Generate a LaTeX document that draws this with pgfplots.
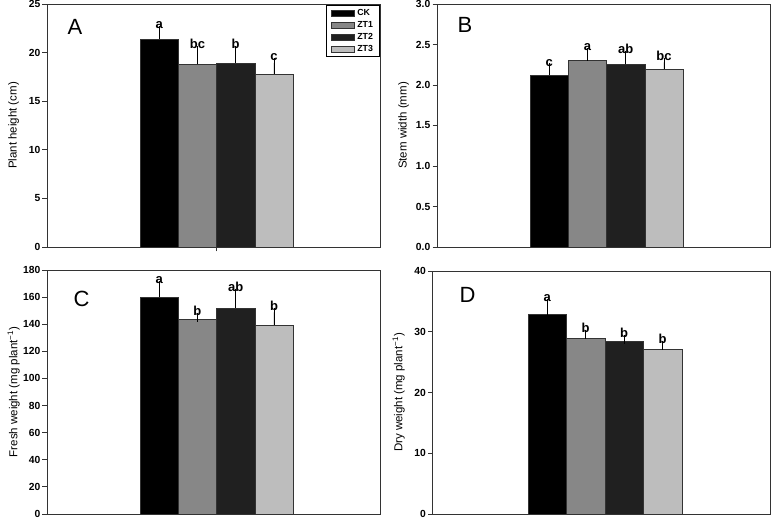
\documentclass[border=0pt]{standalone}
\usepackage{pgfplots}
\pgfplotsset{compat=1.18}
\usepackage{fontspec}
\setmainfont{Liberation Sans}
\definecolor{ck}{HTML}{000000}
\definecolor{zta}{HTML}{878787}
\definecolor{ztb}{HTML}{202020}
\definecolor{ztc}{HTML}{BDBDBD}
\definecolor{axisgray}{HTML}{333333}

\pgfplotsset{
  panel/.style={
    scale only axis, width=333bp, height=243bp,
    xmin=-4.43, xmax=4.27, ymin=0,
    axis line style={axisgray, line width=0.9bp},
    tick style={axisgray, line width=0.8bp},
    tick align=outside, major tick length=4.5bp,
    ytick pos=left, xtick pos=bottom, xtick=\empty,
    /pgf/number format/assume math mode=true,
    yticklabel style={font=\fontsize{10.3bp}{11bp}\selectfont\bfseries, inner xsep=2bp},
    ylabel style={font=\fontsize{11.5bp}{13bp}\selectfont,
      at={(axis description cs:-0.1,0.5)}, anchor=center},
  },
  bar/.style={ybar, bar width=1, bar shift=0pt, draw=axisgray, line width=0.5bp,
    error bars/.cd, y dir=plus, y explicit,
    error bar style={black, line width=0.8bp},
    error mark=-,
    error mark options={black, line width=0.8bp, mark size=4.5bp},
    /pgfplots/.cd,
    legend image code/.code={\draw[##1, line width=0.5bp] (0bp,-3bp) rectangle (23bp,3bp);}},
}
\tikzset{
  sig/.style={anchor=south, inner sep=1.5bp, font=\fontsize{13bp}{14bp}\selectfont\bfseries},
  tag/.style={font=\fontsize{22bp}{24bp}\selectfont},
}

\begin{document}
\begin{tikzpicture}
\useasboundingbox (0,0) rectangle (777bp,519bp);

% A: plant height
\begin{axis}[panel, at={(47bp,272bp)}, anchor=south west,
  ymax=25, ytick={0,5,...,25},
  xtick={0}, xticklabels={{}},
  ylabel={Plant height (cm)},
  legend style={at={(0.998,0.995)}, anchor=north east, draw=black, line width=0.8bp,
    font=\fontsize{8.8bp}{9bp}\selectfont\bfseries, inner xsep=4bp, inner ysep=3bp,
    nodes={inner ysep=1bp, inner xsep=2bp}, row sep=2.2bp, column sep=1bp,
    cells={anchor=west}}]
\addplot[bar, fill=ck]  coordinates {(-1.5,21.4)  +- (0,0.9)};
\addplot[bar, fill=zta] coordinates {(-0.5,18.8)  +- (0,1.4)};
\addplot[bar, fill=ztb] coordinates {(0.5,18.95)  +- (0,1.25)};
\addplot[bar, fill=ztc] coordinates {(1.5,17.8)   +- (0,1.15)};
\legend{CK,ZT1,ZT2,ZT3}
\node[sig] at (axis cs:-1.5,22.3) {a};
\node[sig] at (axis cs:-0.5,20.2) {bc};
\node[sig] at (axis cs:0.5,20.2) {b};
\node[sig] at (axis cs:1.5,18.95) {c};
\node[tag] at (axis description cs:0.084,0.905) {A};
\end{axis}

% B: stem width
\begin{axis}[panel, at={(437bp,272bp)}, anchor=south west,
  ymax=3, ytick={0,0.5,...,3},
  yticklabel style={/pgf/number format/.cd, fixed, fixed zerofill, precision=1},
  ylabel={Stem width (mm)}]
\addplot[bar, fill=ck]  coordinates {(-1.5,2.12)  +- (0,0.09)};
\addplot[bar, fill=zta] coordinates {(-0.5,2.30)  +- (0,0.10)};
\addplot[bar, fill=ztb] coordinates {(0.5,2.255)  +- (0,0.115)};
\addplot[bar, fill=ztc] coordinates {(1.5,2.195)  +- (0,0.085)};
\node[sig] at (axis cs:-1.5,2.21) {c};
\node[sig] at (axis cs:-0.5,2.40) {a};
\node[sig] at (axis cs:0.5,2.37) {ab};
\node[sig] at (axis cs:1.5,2.28) {bc};
\node[tag] at (axis description cs:0.084,0.914) {B};
\end{axis}

% C: fresh weight
\begin{axis}[panel, at={(47bp,5bp)}, anchor=south west, height=244bp,
  ymax=180, ytick={0,20,...,180},
  ylabel={Fresh weight (mg plant\textsuperscript{−1})}]
\addplot[bar, fill=ck]  coordinates {(-1.5,159.8) +- (0,8.6)};
\addplot[bar, fill=zta] coordinates {(-0.5,143.3) +- (0,1.7)};
\addplot[bar, fill=ztb] coordinates {(0.5,151.9)  +- (0,11.1)};
\addplot[bar, fill=ztc] coordinates {(1.5,139.6)  +- (0,9.1)};
\node[sig] at (axis cs:-1.5,168.4) {a};
\node[sig] at (axis cs:-0.5,145.0) {b};
\node[sig] at (axis cs:0.5,163.0) {ab};
\node[sig] at (axis cs:1.5,148.7) {b};
\node[tag] at (axis description cs:0.104,0.883) {C};
\end{axis}

% D: dry weight
\begin{axis}[panel, at={(432.5bp,5bp)}, anchor=south west, width=337.5bp,
  xmin=-4.48, xmax=4.29,
  ymax=40, ytick={0,10,...,40},
  ylabel={Dry weight (mg plant\textsuperscript{−1})}]
\addplot[bar, fill=ck]  coordinates {(-1.5,32.8)  +- (0,1.9)};
\addplot[bar, fill=zta] coordinates {(-0.5,28.9)  +- (0,0.7)};
\addplot[bar, fill=ztb] coordinates {(0.5,28.4)   +- (0,0.35)};
\addplot[bar, fill=ztc] coordinates {(1.5,27.2)   +- (0,0.6)};
\node[sig] at (axis cs:-1.5,34.7) {a};
\node[sig] at (axis cs:-0.5,29.6) {b};
\node[sig] at (axis cs:0.5,28.75) {b};
\node[sig] at (axis cs:1.5,27.8) {b};
\node[tag] at (axis description cs:0.104,0.9) {D};
\end{axis}
\end{tikzpicture}
\end{document}
